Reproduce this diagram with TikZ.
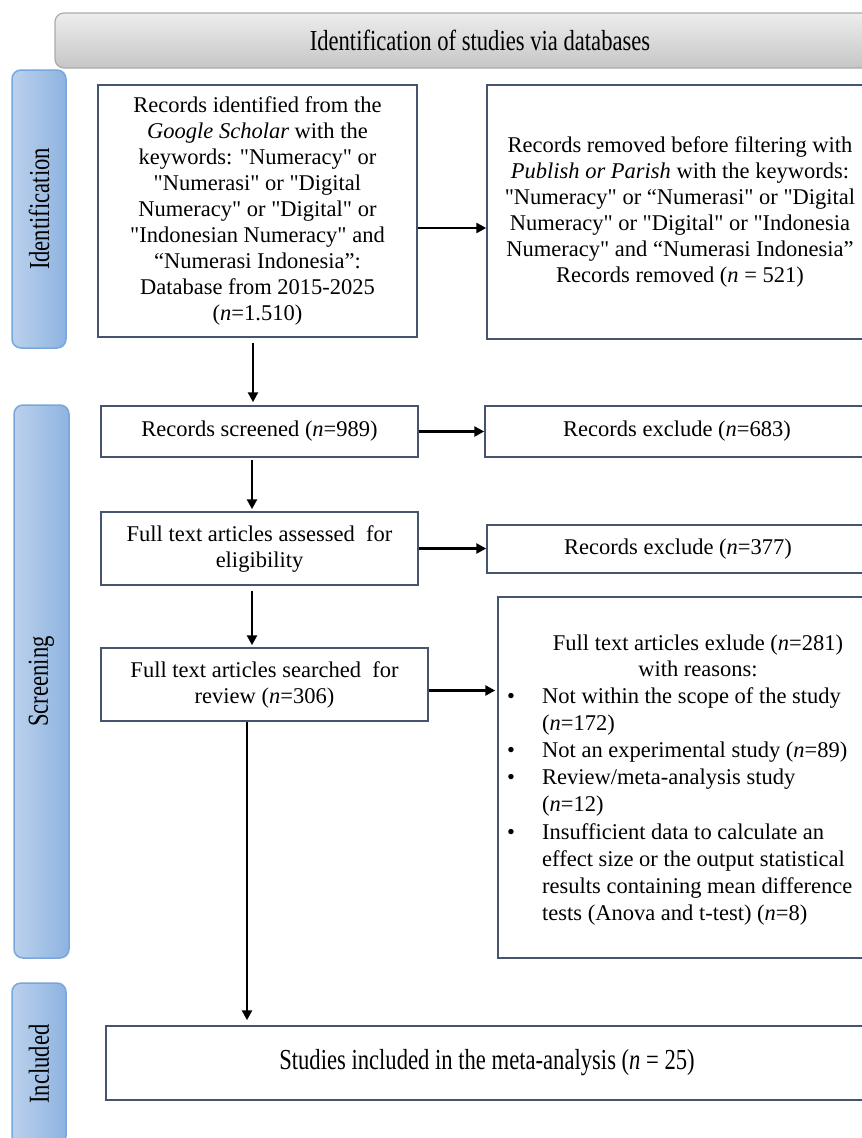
\documentclass[tikz,border=0pt]{standalone}
\usepackage{fontspec}
\setmainfont{Liberation Serif}[Ligatures=TeXOff]
\newfontfamily\condfont[FakeStretch=0.78]{Liberation Serif}
\usetikzlibrary{arrows.meta}
\definecolor{boxline}{HTML}{45556F}
\definecolor{barline}{HTML}{79A6DC}
\definecolor{barL}{HTML}{BBD1EC}
\definecolor{barR}{HTML}{8EB3E1}
\definecolor{hdrT}{HTML}{EDEDED}
\definecolor{hdrB}{HTML}{C6C6C6}
\definecolor{hdrline}{HTML}{AAAAAA}
\begin{document}
\begin{tikzpicture}[x=1pt,y=-1pt,
  txt/.style={font=\fontsize{22.5}{26}\selectfont, text=black},
  pbox/.style={draw=boxline, line width=1.5pt, fill=white, align=center, inner sep=0pt, txt},
  sidebar/.style={draw=barline, line width=1.5pt, left color=barL, right color=barR, rounded corners=9pt, inner sep=0pt},
  sidelabel/.style={rotate=90, font=\condfont\fontsize{29}{30}\selectfont, text=black, inner sep=0pt},
  hdr/.style={draw=hdrline, line width=1.2pt, top color=hdrT, bottom color=hdrB, rounded corners=9pt, inner sep=0pt, font=\condfont\fontsize{29}{30}\selectfont, text=black},
  arr/.style={line width=2.5pt, -{Triangle[length=10pt,width=10pt]}, black}
]
\useasboundingbox (0,0) rectangle (862,1138);
\clip (0,0) rectangle (862,1138);

% header
\node[hdr, minimum width=850pt, minimum height=55pt] (hdr) at (480,40.5) {Identification of studies via databases};

% side bars
\node[sidebar, minimum width=54pt, minimum height=278pt] (idbar) at (39,209) {};
\node[sidelabel] (idlab) at (idbar.center) {Identification};
\node[sidebar, minimum width=55pt, minimum height=553pt] (scbar) at (41.5,681.5) {};
\node[sidelabel] (sclab) at (scbar.center) {Screening};
\node[sidebar, minimum width=54pt, minimum height=162pt] (inbar) at (39,1064) {};
\node[sidelabel] (inlab) at (inbar.center) {Included};

% boxes
\node[pbox, minimum width=319pt, minimum height=252pt] (A) at (257.5,211) {Records identified from the\\ \textit{Google Scholar} with the\\ keywords: "Numeracy" or\\ "Numerasi" or "Digital\\ Numeracy" or "Digital" or\\ "Indonesian Numeracy" and\\ “Numerasi Indonesia”:\\ Database from 2015-2025\\ (\textit{n}=1.510)};
\node[pbox, minimum width=386pt, minimum height=254pt] (B) at (680,212) {Records removed before filtering with\\ \textit{Publish or Parish} with the keywords:\\ "Numeracy" or “Numerasi" or "Digital\\ Numeracy" or "Digital" or "Indonesia\\ Numeracy" and “Numerasi Indonesia”\\ Records removed (\textit{n} = 521)};
\node[pbox, minimum width=317pt, minimum height=51pt] (C) at (259.5,431.5) {Records screened (\textit{n}=989)};
\node[pbox, minimum width=384pt, minimum height=51pt] (D) at (677,431.5) {Records exclude (\textit{n}=683)};
\node[pbox, minimum width=317pt, minimum height=73pt] (E) at (259.5,548.5) {Full text articles assessed\ \ for\\ eligibility};
\node[pbox, minimum width=382pt, minimum height=48pt] (F) at (678,549) {Records exclude (\textit{n}=377)};
\node[pbox, minimum width=327pt, minimum height=73pt] (G) at (264.5,684.5) {Full text articles searched\ \ for\\ review (\textit{n}=306)};
\node[pbox, minimum width=400pt, minimum height=361pt] (H) at (698,777.5) {};
\node[txt, align=center, inner sep=0pt] (Hh) at (698,656) {Full text articles exlude (\textit{n}=281)\\ with reasons:};
\node[txt, align=left, inner sep=0pt, anchor=north west, font=\fontsize{22.5}{27.2}\selectfont] (Hl) at (507,687) {\makebox[35pt][l]{•}Not within the scope of the study\\ \hspace*{35pt}(\textit{n}=172)\\ \makebox[35pt][l]{•}Not an experimental study (\textit{n}=89)\\ \makebox[35pt][l]{•}Review/meta-analysis study\\ \hspace*{35pt}(\textit{n}=12)\\ \makebox[35pt][l]{•}Insufficient data to calculate an\\ \hspace*{35pt}effect size or the output statistical\\ \hspace*{35pt}results containing mean difference\\ \hspace*{35pt}tests (Anova and t-test) (\textit{n}=8)};
\node[pbox, minimum width=762pt, minimum height=74pt, font=\condfont\fontsize{29}{30}\selectfont] (I) at (487,1063) {Studies included in the meta-analysis (\textit{n} = 25)};

% connectors
\draw[arr] ([yshift=-17pt]A.east) -- ([yshift=-17pt]A.east -| B.west);
\draw[arr, shorten <=5pt, shorten >=3pt] ([xshift=-4.5pt]A.south) -- ([xshift=-6.5pt]C.north);
\draw[arr] (C.east) -- (C.east -| D.west);
\draw[arr, shorten <=2pt, shorten >=2pt] ([xshift=-7.5pt]C.south) -- ([xshift=-7.5pt]E.north);
\draw[arr] (E.east) -- (E.east -| F.west);
\draw[arr, shorten <=5pt, shorten >=2pt] ([xshift=-7.5pt]E.south) -- ([xshift=-12.5pt]G.north);
\draw[arr, shorten >=2pt] ([yshift=-6pt]G.east) -- ([yshift=-6pt]G.east -| H.west);
\draw[arr, shorten >=5pt] ([xshift=-17.5pt]G.south) -- ([xshift=-240pt]I.north);
\end{tikzpicture}
\end{document}
